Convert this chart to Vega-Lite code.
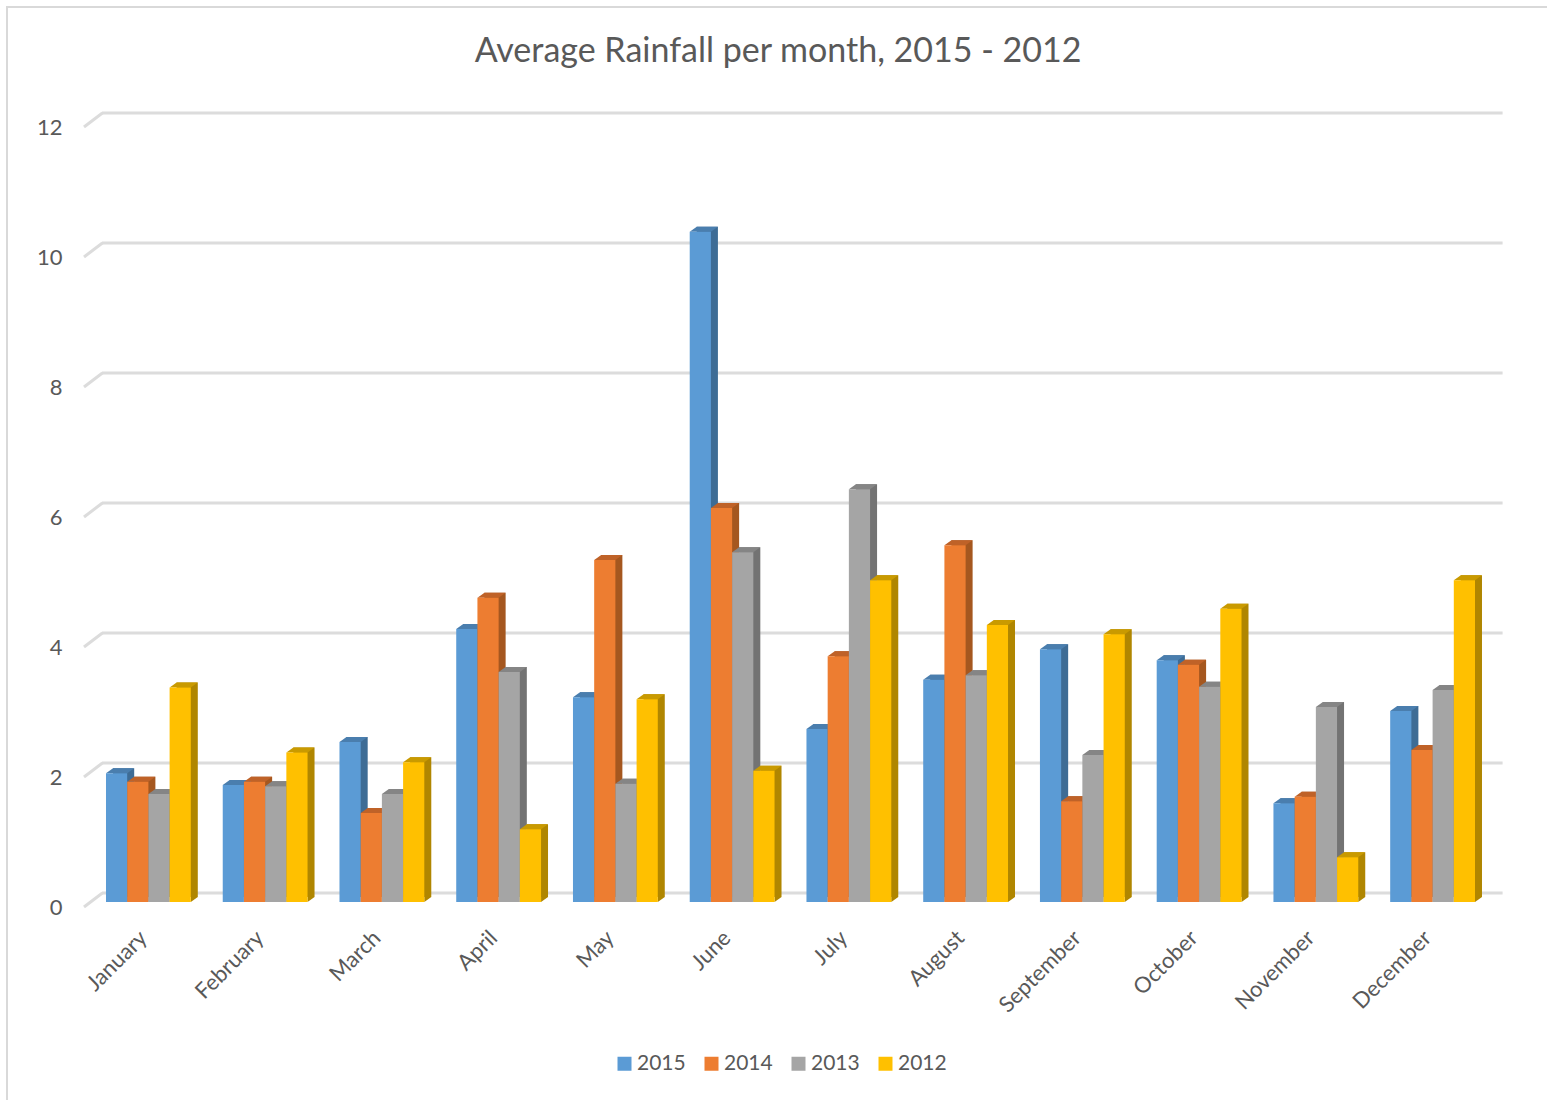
{
"$schema":"https://vega.github.io/schema/vega-lite/v6.json",
"autosize":{"type":"none"},
"padding":{"left":7,"top":7,"right":0,"bottom":0},
"width":1542,"height":1095,
"background":"white",
"view":{"stroke":"#d9d9d9","strokeWidth":2,"fill":"white"},
"title":{"text":"Average Rainfall per month, 2015 - 2012","font":"Lato","fontSize":34,"fontWeight":"normal","color":"#595959","anchor":"middle","offset":-62},
"datasets":{
"rain":[
{"month":"January","year":"2015","rain":1.98},{"month":"January","year":"2014","rain":1.85},{"month":"January","year":"2013","rain":1.66},{"month":"January","year":"2012","rain":3.3},
{"month":"February","year":"2015","rain":1.8},{"month":"February","year":"2014","rain":1.85},{"month":"February","year":"2013","rain":1.78},{"month":"February","year":"2012","rain":2.3},
{"month":"March","year":"2015","rain":2.46},{"month":"March","year":"2014","rain":1.37},{"month":"March","year":"2013","rain":1.66},{"month":"March","year":"2012","rain":2.15},
{"month":"April","year":"2015","rain":4.2},{"month":"April","year":"2014","rain":4.68},{"month":"April","year":"2013","rain":3.54},{"month":"April","year":"2012","rain":1.12},
{"month":"May","year":"2015","rain":3.15},{"month":"May","year":"2014","rain":5.26},{"month":"May","year":"2013","rain":1.82},{"month":"May","year":"2012","rain":3.12},
{"month":"June","year":"2015","rain":10.31},{"month":"June","year":"2014","rain":6.06},{"month":"June","year":"2013","rain":5.38},{"month":"June","year":"2012","rain":2.02},
{"month":"July","year":"2015","rain":2.66},{"month":"July","year":"2014","rain":3.78},{"month":"July","year":"2013","rain":6.35},{"month":"July","year":"2012","rain":4.95},
{"month":"August","year":"2015","rain":3.42},{"month":"August","year":"2014","rain":5.49},{"month":"August","year":"2013","rain":3.49},{"month":"August","year":"2012","rain":4.26},
{"month":"September","year":"2015","rain":3.89},{"month":"September","year":"2014","rain":1.55},{"month":"September","year":"2013","rain":2.26},{"month":"September","year":"2012","rain":4.12},
{"month":"October","year":"2015","rain":3.72},{"month":"October","year":"2014","rain":3.65},{"month":"October","year":"2013","rain":3.31},{"month":"October","year":"2012","rain":4.51},
{"month":"November","year":"2015","rain":1.52},{"month":"November","year":"2014","rain":1.62},{"month":"November","year":"2013","rain":3.0},{"month":"November","year":"2012","rain":0.69},
{"month":"December","year":"2015","rain":2.94},{"month":"December","year":"2014","rain":2.34},{"month":"December","year":"2013","rain":3.26},{"month":"December","year":"2012","rain":4.95}
],
"grid":[{"tick":0},{"tick":2},{"tick":4},{"tick":6},{"tick":8},{"tick":10},{"tick":12}]
},
"layer":[
{"data":{"name":"grid"},
 "mark":{"type":"rule","color":"#dcdcdc","strokeWidth":3,"xOffset":-4,"x2Offset":70,"yOffset":-9,"y2Offset":-9},
 "encoding":{
  "x":{"datum":"January","type":"nominal","bandPosition":0,"title":null,"scale":{"domain":["January","February","March","April","May","June","July","August","September","October","November","December"],"range":[83,1484],"paddingInner":0.2735,"paddingOuter":0.137}},
  "x2":{"datum":"December"},
  "y":{"field":"tick","type":"quantitative","title":null,"scale":{"domain":[0,12],"range":[895,115],"nice":false,"zero":true}},
  "y2":{"field":"tick"}
 }},
{"data":{"name":"grid"},
 "mark":{"type":"rule","color":"#dcdcdc","strokeWidth":3,"xOffset":-22,"x2Offset":-46,"yOffset":5,"y2Offset":-9},
 "encoding":{
  "x":{"datum":"January","type":"nominal","bandPosition":0,"title":null},
  "x2":{"datum":"January"},
  "y":{"field":"tick","type":"quantitative","title":null},
  "y2":{"field":"tick"}
 }},
{"data":{"name":"rain"},
 "mark":{"type":"bar","yOffset":-5,"y2Offset":-5},
 "encoding":{
  "x":{"field":"month","type":"nominal","title":null},
  "xOffset":{"field":"year","type":"nominal","scale":{"domain":["2015","2014","2013","2012"],"range":[7,91.8],"paddingInner":0,"paddingOuter":0}},
  "y":{"field":"rain","type":"quantitative","title":null},
  "color":{"field":"year","type":"nominal","legend":null,"scale":{"domain":["2015","2014","2013","2012"],"range":["#3e6c95","#a5571f","#737373","#b08600"]}}
 }},
{"data":{"name":"rain"},
 "mark":{"type":"point","filled":true,"opacity":1,"size":4,"strokeWidth":0,"shape":"M-10.6,0 L10.6,0 L17.6,-5 L-3.6,-5 Z"},
 "encoding":{
  "x":{"field":"month","type":"nominal","title":null},
  "xOffset":{"field":"year","type":"nominal","scale":{"type":"band","domain":["2015","2014","2013","2012"],"paddingInner":0,"paddingOuter":0}},
  "y":{"field":"rain","type":"quantitative","title":null},
  "color":{"field":"year","type":"nominal","legend":null,"scale":{"domain":["2015","2014","2013","2012"],"range":["#4a7eae","#bf6228","#858585","#c99a00"]}}
 }},
{"data":{"name":"rain"},
 "mark":{"type":"point","filled":true,"opacity":1,"size":4,"strokeWidth":0,"shape":"M10.6,0 L17.6,-5 L10.6,-5 Z"},
 "encoding":{
  "x":{"field":"month","type":"nominal","title":null},
  "xOffset":{"field":"year","type":"nominal","scale":{"type":"band","domain":["2015","2014","2013","2012"],"paddingInner":0,"paddingOuter":0}},
  "y":{"datum":0,"type":"quantitative","title":null},
  "color":{"field":"year","type":"nominal","legend":null,"scale":{"domain":["2015","2014","2013","2012"],"range":["#3e6c95","#a5571f","#737373","#b08600"]}}
 }},
{"data":{"name":"rain"},
 "mark":{"type":"bar"},
 "encoding":{
  "x":{"field":"month","type":"nominal","title":null,"axis":{"orient":"bottom","offset":-168,"labelAngle":-45,"labelFont":"Lato","labelFontSize":22,"labelColor":"#595959","ticks":false,"domain":false,"grid":false,"labelOverlap":false,"labelBound":false,"labelFlush":false,"labelPadding":0,"labelOffset":-5}},
  "xOffset":{"field":"year","type":"nominal","scale":{"domain":["2015","2014","2013","2012"],"paddingInner":0,"paddingOuter":0}},
  "y":{"field":"rain","type":"quantitative","title":null,"axis":{"orient":"left","offset":-55,"values":[0,2,4,6,8,10,12],"format":"d","labelFont":"Lato","labelFontSize":22,"labelColor":"#595959","ticks":false,"domain":false,"grid":false,"labelPadding":0,"labelOffset":5}},
  "color":{"field":"year","type":"nominal","title":null,"scale":{"domain":["2015","2014","2013","2012"],"range":["#5b9bd5","#ed7d31","#a5a5a5","#ffc000"]},"legend":{"orient":"none","legendX":607,"legendY":1046,"direction":"horizontal","columns":4,"symbolType":"square","symbolSize":196,"symbolStrokeWidth":0,"labelFont":"Lato","labelFontSize":21,"labelColor":"#595959","labelOffset":2,"columnPadding":15,"padding":0}}
 }}
],
"resolve":{"scale":{"color":"independent","xOffset":"independent"}}
}
